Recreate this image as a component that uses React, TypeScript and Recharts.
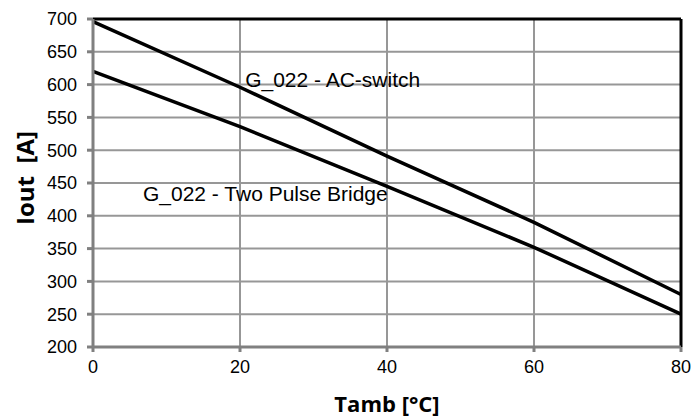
import { LineChart, Line, XAxis, YAxis, CartesianGrid, ReferenceLine, ReferenceDot, Label } from "recharts";

const tamb = [0, 20, 40, 60, 80];
const acSwitch = [696, 596, 491, 390, 280];
const twoPulse = [620, 536, 445, 352, 250];
const xTicks = [0, 20, 40, 60, 80];
const yTicks = [200, 250, 300, 350, 400, 450, 500, 550, 600, 650, 700];

const data = tamb.map((t, i) => ({ t, ac: acSwitch[i], tp: twoPulse[i] }));

// where the two series names sit, in data units (left end, baseline)
const notes = [
  { x: 20.7, y: 596, text: "G_022 - AC-switch" },
  { x: 6.8, y: 423, text: "G_022 - Two Pulse Bridge" },
];

const GRID = "#979797";
const AXIS = "#808080";
const tickFont = { fontFamily: "Liberation Sans, Arial, sans-serif", fontSize: 18, fill: "#000" };
const titleFont = "Open Sans, sans-serif";

export default function App() {
  return (
    <div style={{ position: "absolute", left: 0, top: 0, width: 694, height: 418, background: "#fff" }}>
      <LineChart width={694} height={418} data={data} margin={{ top: 19, right: 13, bottom: 0, left: 0 }}>
        <CartesianGrid stroke={GRID} strokeWidth={2} />
        <XAxis
          dataKey="t"
          type="number"
          domain={[0, 80]}
          ticks={xTicks}
          height={71}
          stroke={AXIS}
          strokeWidth={3}
          tickSize={5}
          tickMargin={8}
          tick={tickFont}
        >
          <Label
            content={({ viewBox }: any) => (
              <text x={viewBox.x + viewBox.width / 2} y={412} textAnchor="middle" fontFamily={titleFont} fontWeight={700} fontSize={22} fill="#000">
                Tamb [°C]
              </text>
            )}
          />
        </XAxis>
        <YAxis
          type="number"
          domain={[200, 700]}
          ticks={yTicks}
          width={93}
          stroke={AXIS}
          strokeWidth={3}
          tickSize={6}
          tickMargin={10}
          tick={tickFont}
          interval={0}
        >
          <Label
            content={({ viewBox }: any) => {
              const cy = viewBox.y + viewBox.height / 2 - 5;
              return (
                <text x={34} y={cy} transform={`rotate(-90, 34, ${cy})`} textAnchor="middle" fontFamily={titleFont} fontWeight={700} fontSize={24} fill="#000" style={{ whiteSpace: "pre" }}>
                  {"Iout  [A]"}
                </text>
              );
            }}
          />
        </YAxis>
        <ReferenceLine y={700} stroke="#000" strokeWidth={3} />
        <ReferenceLine x={80} stroke="#000" strokeWidth={3} />
        <Line type="linear" dataKey="ac" stroke="#000" strokeWidth={3.5} dot={false} isAnimationActive={false} />
        <Line type="linear" dataKey="tp" stroke="#000" strokeWidth={3.5} dot={false} isAnimationActive={false} />
        {notes.map((n) => (
          <ReferenceDot
            key={n.text}
            x={n.x}
            y={n.y}
            r={0}
            fill="none"
            stroke="none"
            label={({ viewBox }: any) => (
              <text x={viewBox.x} y={viewBox.y} fontFamily="Liberation Sans, Arial, sans-serif" fontSize={21} fill="#000">
                {n.text}
              </text>
            )}
          />
        ))}
      </LineChart>
    </div>
  );
}
